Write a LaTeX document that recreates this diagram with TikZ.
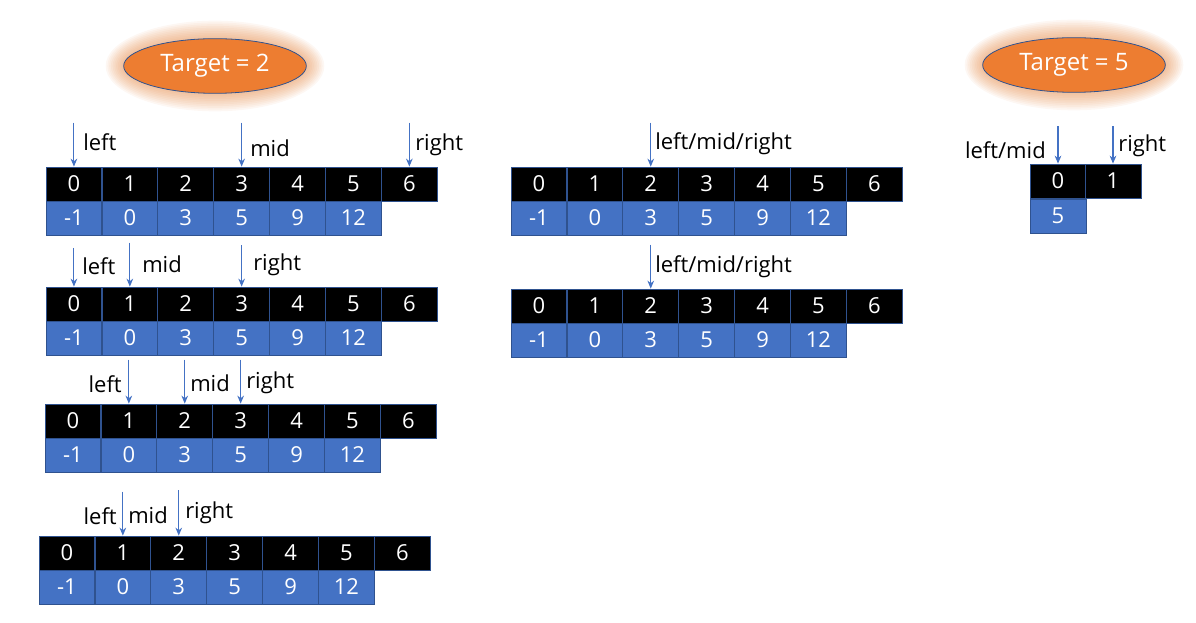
\documentclass[tikz,border=0pt]{standalone}
\usepackage{fontspec}
\setmainfont{Open Sans}
\usetikzlibrary{arrows.meta,positioning,shapes}
\definecolor{accentorange}{RGB}{237,125,49}
\definecolor{accentblue}{RGB}{68,114,196}
\definecolor{darkblue}{RGB}{47,82,143}

% one array: index row on top, value row below
\newcommand{\cellrow}[3]{%
  \foreach \i in {0,...,6}
    \node[idxcell] (#1-\i) at ({#2+27.95+55.9*\i},{#3+17}) {\i};
  \foreach \v [count=\j from 0] in {-1,0,3,5,9,12}
    \node[valcell] (#1-v\j) at ({#2+27.95+55.9*\j},{#3+51}) {\v};
}
% soft glow behind a target ellipse
\newcommand{\glow}[1]{%
  \foreach \k in {1,...,10}
    \fill[accentorange!75!brown, opacity=0.06] (#1) ellipse ({(69+1.3*\k)*1pt} and {(21+1.3*\k)*1pt});
}

\begin{document}
\begin{tikzpicture}
  [x=0.75pt, y=-0.75pt,
   every node/.style={font=\fontsize{16.5}{19}\selectfont},
   idxcell/.style={rectangle,draw=darkblue,line width=0.6pt,fill=black,text=white,
                   minimum width=41.9pt,minimum height=25.5pt,inner sep=0pt},
   valcell/.style={idxcell,fill=accentblue},
   target/.style={ellipse,draw=darkblue,line width=0.6pt,fill=accentorange,text=white,
                  minimum width=137pt,minimum height=41pt,inner sep=0pt,
                  font=\fontsize{18}{21}\selectfont},
   lbl/.style={inner sep=0pt,anchor=west},
   ptr/.style={draw=accentblue,line width=0.8pt,-{Stealth[length=6pt,width=5pt]}}]
  \useasboundingbox (0,0) rectangle (1196,623);

  % targets
  \coordinate (g2) at (215,66);
  \coordinate (g5) at (1074,65);
  \glow{g2}
  \glow{g5}
  \node[target] (t2) at (g2) {Target = 2};
  \node[target] (t5) at (g5) {Target = 5};

  % left column, target = 2
  \cellrow{r1}{46}{167}
  \cellrow{r2}{46}{287}
  \cellrow{r3}{45}{404}
  \cellrow{r4}{39}{536}

  \coordinate (r1-lt) at ([yshift=33pt]r1-0.north);
  \coordinate (r1-md) at ([yshift=33pt]r1-3.north);
  \coordinate (r1-rt) at ([yshift=33pt]r1-6.north);
  \draw[ptr] (r1-lt) -- (r1-0.north);
  \draw[ptr] (r1-md) -- (r1-3.north);
  \draw[ptr] (r1-rt) -- (r1-6.north);
  \node[lbl] (r1-ltl) at (83,142) {left};
  \node[lbl] (r1-mdl) at (250,148) {mid};
  \node[lbl] (r1-rtl) at (415,145) {right};

  \coordinate (r2-lt) at ([yshift=29pt]r2-0.north);
  \coordinate (r2-md) at ([yshift=33pt]r2-1.north);
  \coordinate (r2-rt) at ([yshift=31pt]r2-3.north);
  \draw[ptr] (r2-lt) -- (r2-0.north);
  \draw[ptr] (r2-md) -- (r2-1.north);
  \draw[ptr] (r2-rt) -- (r2-3.north);
  \node[lbl] (r2-ltl) at (82,266) {left};
  \node[lbl] (r2-mdl) at (142,264) {mid};
  \node[lbl] (r2-rtl) at (253,265) {right};

  \coordinate (r3-lt) at ([yshift=33pt]r3-1.north);
  \coordinate (r3-md) at ([yshift=33pt]r3-2.north);
  \coordinate (r3-rt) at ([yshift=33pt]r3-3.north);
  \draw[ptr] (r3-lt) -- (r3-1.north);
  \draw[ptr] (r3-md) -- (r3-2.north);
  \draw[ptr] (r3-rt) -- (r3-3.north);
  \node[lbl,anchor=east] (r3-ltl) at (122,384) {left};
  \node[lbl] (r3-mdl) at (190,383) {mid};
  \node[lbl] (r3-rtl) at (246,383) {right};

  \coordinate (r4-lm) at ([yshift=33pt]r4-1.north);
  \coordinate (r4-rt) at ([yshift=34pt]r4-2.north);
  \draw[ptr] (r4-lm) -- (r4-1.north);
  \draw[ptr] (r4-rt) -- (r4-2.north);
  \node[lbl,anchor=east] (r4-ltl) at (117,516) {left};
  \node[lbl] (r4-mdl) at (128,515) {mid};
  \node[lbl] (r4-rtl) at (185,513) {right};

  % middle column
  \cellrow{m1}{511}{167}
  \cellrow{m2}{511}{289}
  \coordinate (m1-all) at ([yshift=33pt]m1-2.north);
  \coordinate (m2-all) at ([yshift=33pt]m2-2.north);
  \draw[ptr] (m1-all) -- (m1-2.north);
  \draw[ptr] (m2-all) -- (m2-2.north);
  \node[lbl] (m1-l) at (655,144) {left/mid/right};
  \node[lbl] (m2-l) at (655,267) {left/mid/right};

  % right column, target = 5
  \node[idxcell] (s-0) at (1058,181) {0};
  \node[idxcell] (s-1) at (1113,181) {1};
  \node[valcell] (s-v0) at (1058,216) {5};
  \coordinate (s-lm) at ([yshift=28pt]s-0.north);
  \coordinate (s-rt) at ([yshift=28pt]s-1.north);
  \draw[ptr] (s-lm) -- (s-0.north);
  \draw[ptr] (s-rt) -- (s-1.north);
  \node[lbl,anchor=east] (s-lml) at (1046,150) {left/mid};
  \node[lbl] (s-rtl) at (1118,146) {right};
\end{tikzpicture}
\end{document}
